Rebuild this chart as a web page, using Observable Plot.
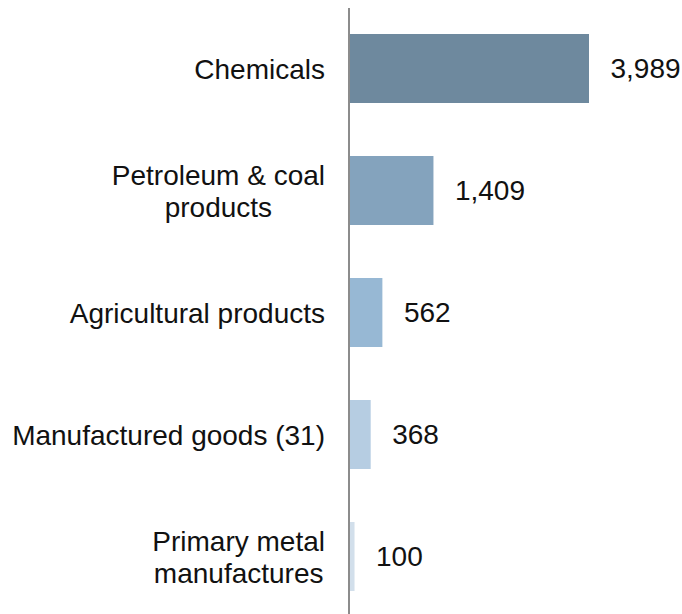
<!DOCTYPE html>
<html>
<head>
<meta charset="utf-8">
<script src="https://cdn.jsdelivr.net/npm/d3@7"></script>
<script src="https://cdn.jsdelivr.net/npm/@observablehq/plot@0.6"></script>
<style>
  html, body { margin: 0; padding: 0; background: #fff; overflow: hidden; }
  #chart svg { display: block; }
</style>
</head>
<body>
<div id="chart"></div>
<script>
const categories = ["Chemicals", "Petroleum & coal products", "Agricultural products", "Manufactured goods (31)", "Primary metal manufactures"];
const labels = ["Chemicals", "Petroleum & coal\nproducts", "Agricultural products", "Manufactured goods (31)", "Primary metal\nmanufactures"];
const values = [3989, 1409, 562, 368, 100];
const colors = ["#6e899e", "#84a3bd", "#97b8d4", "#b6cde2", "#d2dfeb"];

const data = categories.map((c, i) => ({cat: c, label: labels[i], value: values[i], color: colors[i]}));

const chart = Plot.plot({
  width: 682,
  height: 614,
  marginLeft: 348.5,
  marginRight: 93,
  marginTop: 14,
  marginBottom: 3,
  style: {fontFamily: "'Liberation Sans', Arial, sans-serif", fontSize: "28px", background: "#fff"},
  x: {domain: [0, 3989], axis: null},
  y: {domain: categories, axis: null, paddingInner: 0.438, paddingOuter: 0.15},
  marks: [
    Plot.barX(data, {x: "value", y: "cat", fill: "color"}),
    Plot.ruleX([0], {stroke: "#8c8c8c", strokeWidth: 2, insetTop: -6, insetBottom: -6}),
    Plot.text(data, {x: () => 0, y: "cat", text: "label", textAnchor: "end", dx: -24, fontSize: 28, lineHeight: 1.15, fill: "#111"}),
    Plot.text(data, {x: "value", y: "cat", text: d => d3.format(",")(d.value), textAnchor: "start", dx: 21, fontSize: 28, fill: "#111"})
  ]
});
document.getElementById("chart").appendChild(chart);

// center the lines of multi-line category labels while keeping the block right-aligned
const groups = chart.querySelectorAll('g[aria-label="text"]');
if (groups.length) {
  groups[0].querySelectorAll("text").forEach(t => {
    if (t.querySelectorAll("tspan").length > 1) {
      const bb = t.getBBox();
      const right = bb.x + bb.width;
      t.setAttribute("text-anchor", "middle");
      const bb2 = t.getBBox();
      const shift = right - (bb2.x + bb2.width);
      const cur = t.getAttribute("transform") || "";
      t.setAttribute("transform", cur + ` translate(${shift},0)`);
    }
  });
}
</script>
</body>
</html>
